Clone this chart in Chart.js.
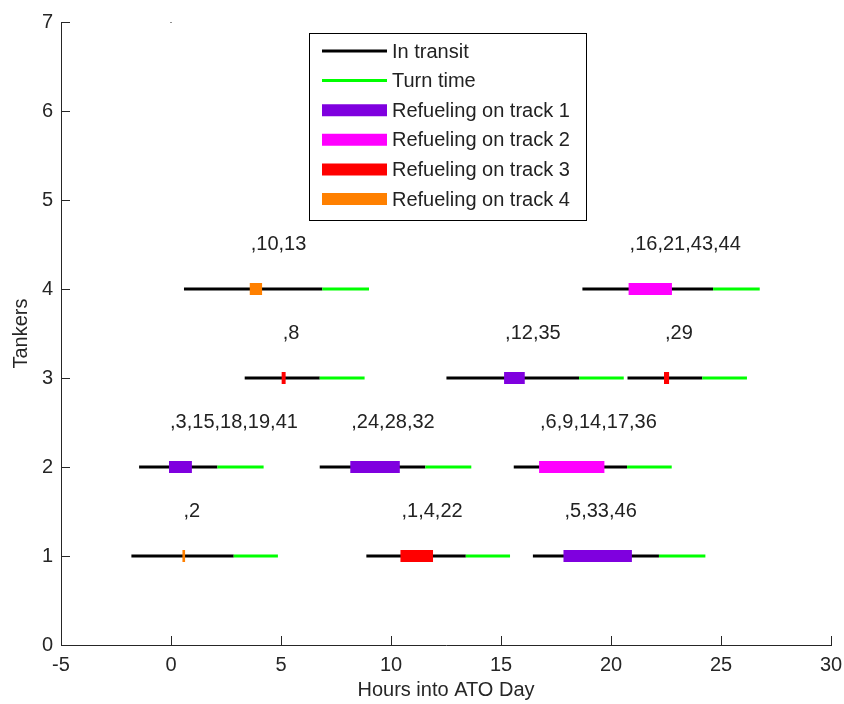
<!DOCTYPE html>
<html>
<head>
<meta charset="utf-8">
<script src="https://cdn.jsdelivr.net/npm/chart.js@4/dist/chart.umd.min.js"></script>
<style>
  html, body { margin: 0; padding: 0; background: #fff; }
  #wrap { width: 844px; height: 704px; }
</style>
</head>
<body>
<div id="wrap"><canvas id="tankerChart" width="844" height="704"></canvas></div>
<script>
// one entry per tanker sortie (row on the y axis, times in hours)
const rowIndex    = [4, 4, 3, 3, 3, 2, 2, 2, 1, 1, 1];
const departTime  = [0.59, 18.70, 3.35, 12.52, 20.75, -1.45, 6.76, 15.58, -1.80, 8.88, 16.45];
const refuelStart = [3.58, 20.80, 5.03, 15.14, 22.41, -0.09, 8.15, 16.73, 0.52, 10.43, 17.84];
const refuelEnd   = [4.14, 22.77, 5.21, 16.08, 22.64, 0.95, 10.40, 19.70, 0.64, 11.91, 20.95];
const returnTime  = [6.88, 24.64, 6.76, 18.55, 24.15, 2.11, 11.56, 20.73, 2.85, 13.40, 22.18];
const turnEnd     = [9.00, 26.76, 8.80, 20.58, 26.18, 4.21, 13.65, 22.76, 4.86, 15.41, 24.29];
const refuelTrack = [4, 2, 3, 1, 3, 1, 1, 2, 4, 3, 1];
const receiverIds = [',10,13', ',16,21,43,44', ',8', ',12,35', ',29', ',3,15,18,19,41',
                     ',24,28,32', ',6,9,14,17,36', ',2', ',1,4,22', ',5,33,46'];

const legendLabels = ['In transit', 'Turn time', 'Refueling on track 1', 'Refueling on track 2',
                      'Refueling on track 3', 'Refueling on track 4'];
const xTicks = [-5, 0, 5, 10, 15, 20, 25, 30];
const yTicks = [0, 1, 2, 3, 4, 5, 6, 7];

const transitColor = '#000000';
const turnColor = '#00ff00';
const trackColors = ['#7f00df', '#ff00ff', '#ff0000', '#ff8000'];
const FONT = "'Liberation Sans', Arial, sans-serif";
const axisColor = '#262626';

// build the line datasets
const datasets = [];
for (let i = 0; i < rowIndex.length; i++) {
    datasets.push({
        data: [{x: departTime[i], y: rowIndex[i]}, {x: returnTime[i], y: rowIndex[i]}],
        borderColor: transitColor, borderWidth: 3, order: 3
    });
    datasets.push({
        data: [{x: returnTime[i], y: rowIndex[i]}, {x: turnEnd[i], y: rowIndex[i]}],
        borderColor: turnColor, borderWidth: 3, order: 2
    });
    datasets.push({
        data: [{x: refuelStart[i], y: rowIndex[i]}, {x: refuelEnd[i], y: rowIndex[i]}],
        borderColor: trackColors[refuelTrack[i] - 1], borderWidth: 12, order: 1
    });
}
datasets.forEach(d => {
    d.showLine = true;
    d.pointRadius = 0;
    d.borderCapStyle = 'butt';
});
// stray marker at the top of the axis
datasets.push({
    data: [{x: 0, y: 7}], showLine: false, pointRadius: 0.8,
    backgroundColor: '#000', borderWidth: 0, order: 0
});

// labels, inward ticks and the boxed legend
const extrasPlugin = {
    id: 'extras',
    afterDraw(chart) {
        const ctx = chart.ctx;
        const xs = chart.scales.x, ys = chart.scales.y;
        const area = chart.chartArea;
        ctx.save();

        // tick marks pointing into the plot
        ctx.strokeStyle = axisColor;
        ctx.lineWidth = 1;
        ctx.beginPath();
        xTicks.forEach(v => {
            const px = Math.round(xs.getPixelForValue(v)) + 0.5;
            ctx.moveTo(px, area.bottom);
            ctx.lineTo(px, area.bottom - 9);
        });
        yTicks.forEach(v => {
            const py = Math.round(ys.getPixelForValue(v)) + 0.5;
            ctx.moveTo(area.left, py);
            ctx.lineTo(area.left + 9, py);
        });
        ctx.stroke();

        // receiver lists above each sortie
        ctx.fillStyle = '#222';
        ctx.font = '20px ' + FONT;
        ctx.textAlign = 'left';
        ctx.textBaseline = 'middle';
        for (let i = 0; i < rowIndex.length; i++) {
            ctx.fillText(receiverIds[i], xs.getPixelForValue(refuelStart[i]) + 1,
                         ys.getPixelForValue(rowIndex[i] + 0.5));
        }

        // legend
        const bx = 309.5, by = 33.5, bw = 277, bh = 187;
        ctx.fillStyle = '#fff';
        ctx.fillRect(bx, by, bw, bh);
        ctx.strokeStyle = '#000';
        ctx.lineWidth = 1;
        ctx.strokeRect(bx, by, bw, bh);
        const colors = [transitColor, turnColor].concat(trackColors);
        legendLabels.forEach((lbl, k) => {
            const cy = 51 + k * 29.6;
            ctx.strokeStyle = colors[k];
            ctx.lineWidth = k < 2 ? 3 : 12;
            ctx.lineCap = 'butt';
            ctx.beginPath();
            ctx.moveTo(322, cy);
            ctx.lineTo(387, cy);
            ctx.stroke();
            ctx.fillStyle = '#222';
            ctx.fillText(lbl, 392, cy + 1);
        });
        ctx.restore();
    }
};

new Chart(document.getElementById('tankerChart'), {
    type: 'scatter',
    data: { datasets: datasets },
    options: {
        responsive: false,
        animation: false,
        layout: { padding: { top: 22, right: 13, left: 0, bottom: 0 } },
        plugins: { legend: { display: false }, tooltip: { enabled: false } },
        scales: {
            x: {
                type: 'linear', min: -5, max: 30,
                afterBuildTicks: s => { s.ticks = xTicks.map(v => ({value: v})); },
                afterFit: s => { s.height = 59; s.paddingLeft = 0; s.paddingRight = 0; },
                grid: { display: false, drawTicks: false },
                border: { display: true, color: axisColor, width: 1 },
                ticks: { color: axisColor, font: { family: FONT, size: 20 }, padding: 8 },
                title: { display: true, text: 'Hours into ATO Day', color: axisColor,
                         font: { family: FONT, size: 20 }, padding: { top: 0, bottom: 2 } }
            },
            y: {
                type: 'linear', min: 0, max: 7,
                afterBuildTicks: s => { s.ticks = yTicks.map(v => ({value: v})); },
                afterFit: s => { s.width = 61; s.paddingTop = 0; s.paddingBottom = 0; },
                grid: { display: false, drawTicks: false },
                border: { display: true, color: axisColor, width: 1 },
                ticks: { color: axisColor, font: { family: FONT, size: 20 }, padding: 8 },
                title: { display: true, text: 'Tankers', color: axisColor,
                         font: { family: FONT, size: 20 }, padding: { top: 9, bottom: 0 } }
            }
        }
    },
    plugins: [extrasPlugin]
});
</script>
</body>
</html>
